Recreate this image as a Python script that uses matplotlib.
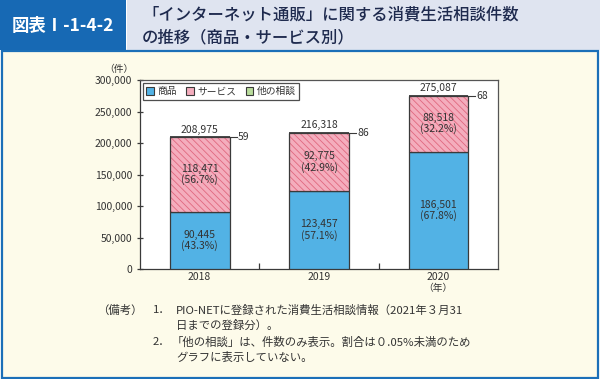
import matplotlib
matplotlib.use("Agg")
import matplotlib.pyplot as plt
import matplotlib.ticker as mticker
from matplotlib.patches import Rectangle, Patch

plt.rcParams["font.family"] = ["Noto Sans CJK JP", "DejaVu Sans"]
plt.rcParams["hatch.linewidth"] = 0.6

# ── data ────────────────────────────────────────────────────────────────────
years = ["2018", "2019", "2020"]
goods = [90445, 123457, 186501]
services = [118471, 92775, 88518]
other = [59, 86, 68]
totals = [208975, 216318, 275087]
goods_pct = ["43.3", "57.1", "67.8"]
services_pct = ["56.7", "42.9", "32.2"]
series_names = ["商品", "サービス", "他の相談"]

C_GOODS = "#52b2e5"
C_SERV = "#f4adbd"
C_HATCH = "#e0687f"
C_OTHER = "#b9dc9c"
C_EDGE = "#3a3a3a"
C_TEXT = "#333333"
W, H = 600, 379

fig = plt.figure(figsize=(W / 100, H / 100), dpi=100)
fig.patch.set_facecolor("white")

# ── page decoration (header + cream panel), pixel coordinates ───────────────
bg = fig.add_axes([0, 0, 1, 1], zorder=0)
bg.set_xlim(0, W)
bg.set_ylim(H, 0)
bg.axis("off")
bg.add_patch(Rectangle((0, 0), 126, 50, facecolor="#1769b4", edgecolor="none"))
bg.add_patch(Rectangle((127, 0), W - 127, 50, facecolor="#dfe4f0", edgecolor="none"))
bg.add_patch(Rectangle((1.5, 51), W - 4, H - 52.5, facecolor="#fdfbea",
                       edgecolor="#1b6fb8", linewidth=1.6))
bg.text(63, 26, "図表Ⅰ-1-4-2", color="white", fontsize=12.5, fontweight="bold",
        ha="center", va="center")
bg.text(142, 15, "「インターネット通販」に関する消費生活相談件数", color="#1e2a4e",
        fontsize=11.8, fontweight="medium", ha="left", va="center")
bg.text(142, 38, "の推移（商品・サービス別）", color="#1e2a4e",
        fontsize=11.8, fontweight="medium", ha="left", va="center")

# notes
note_kw = dict(color=C_TEXT, fontsize=8.2, ha="left", va="center")
bg.text(97, 310, "（備考）", **note_kw)
bg.text(153, 310, "1．", **note_kw)
bg.text(176, 310, "PIO-NETに登録された消費生活相談情報（2021年３月31", **note_kw)
bg.text(176, 325, "日までの登録分）。", **note_kw)
bg.text(153, 342, "2．", **note_kw)
bg.text(172, 342, "「他の相談」は、件数のみ表示。割合は０.05%未満のため", **note_kw)
bg.text(176, 357, "グラフに表示していない。", **note_kw)

# ── chart ───────────────────────────────────────────────────────────────────
ax = fig.add_axes([140 / W, 1 - 269 / H, 358 / W, 189 / H], zorder=2)
ax.set_facecolor("white")
x = list(range(len(years)))
bw = 0.5

ax.bar(x, goods, bw, color=C_GOODS, edgecolor=C_EDGE, linewidth=0.9, zorder=3)
# hatched service segment: hatch layer then outline layer
ax.bar(x, services, bw, bottom=goods, color=C_SERV, edgecolor=C_HATCH,
       hatch="\\\\\\\\\\", linewidth=0, zorder=3)
ax.bar(x, services, bw, bottom=goods, fill=False, edgecolor=C_EDGE,
       linewidth=0.9, zorder=4)
bottoms_other = [g + s for g, s in zip(goods, services)]
ax.bar(x, other, bw, bottom=bottoms_other, color=C_OTHER, edgecolor=C_EDGE,
       linewidth=1.3, zorder=4)

lab_kw = dict(ha="center", va="center", fontsize=7.5, color=C_TEXT, zorder=5,
              linespacing=1.05)
for i in x:
    ax.text(i, goods[i] / 2, f"{goods[i]:,}\n({goods_pct[i]}%)", **lab_kw)
    ax.text(i, goods[i] + services[i] / 2, f"{services[i]:,}\n({services_pct[i]}%)",
            **lab_kw)
    ax.text(i, totals[i] + 4500, f"{totals[i]:,}", ha="center", va="bottom",
            fontsize=7.5, color=C_TEXT)
    ax.plot([i + bw / 2, i + bw / 2 + 0.06], [totals[i], totals[i]],
            color=C_EDGE, linewidth=0.8, zorder=5)
    ax.text(i + bw / 2 + 0.07, totals[i], f"{other[i]}", ha="left", va="center",
            fontsize=7.5, color=C_TEXT)

ax.set_xlim(-0.5, 2.5)
ax.set_ylim(0, 300000)
ax.yaxis.set_major_locator(mticker.MultipleLocator(50000))
ax.yaxis.set_major_formatter(mticker.FuncFormatter(lambda v, _: f"{int(v):,}"))
ax.set_xticks(x)
ax.set_xticklabels(years)
ax.set_xticks([0.5, 1.5], minor=True)
ax.tick_params(axis="x", which="major", length=0, pad=2.5, labelsize=7.5,
               labelcolor=C_TEXT)
ax.tick_params(axis="x", which="minor", direction="in", length=4, width=0.9,
               color=C_EDGE)
ax.tick_params(axis="y", direction="inout", length=5, width=0.9, color=C_EDGE,
               pad=3, labelsize=7.5, labelcolor=C_TEXT)
for sp in ax.spines.values():
    sp.set_color("#555555")
    sp.set_linewidth(0.9)
ax.spines["bottom"].set_color(C_EDGE)
ax.spines["left"].set_color(C_EDGE)

ax.text(-0.68, 309000, "（件）", ha="center", va="bottom", fontsize=7,
        color=C_TEXT, clip_on=False)
ax.text(2, -30500, "（年）", ha="center", va="center", fontsize=7, color=C_TEXT,
        clip_on=False)

handles = [Patch(facecolor=C_GOODS, edgecolor=C_EDGE, linewidth=0.8),
           Patch(facecolor=C_SERV, edgecolor=C_EDGE, linewidth=0.8),
           Patch(facecolor=C_OTHER, edgecolor=C_EDGE, linewidth=0.8)]
leg = ax.legend(handles, series_names, loc="upper left", ncol=3, fontsize=7,
                frameon=True, fancybox=False, edgecolor="#222222",
                handlelength=0.8, handleheight=0.8, handletextpad=0.3,
                columnspacing=1.0, borderpad=0.35, borderaxespad=0.3)
leg.get_frame().set_linewidth(0.9)
for t in leg.get_texts():
    t.set_color(C_TEXT)

fig.savefig("out.png", dpi=100, facecolor=fig.get_facecolor())
